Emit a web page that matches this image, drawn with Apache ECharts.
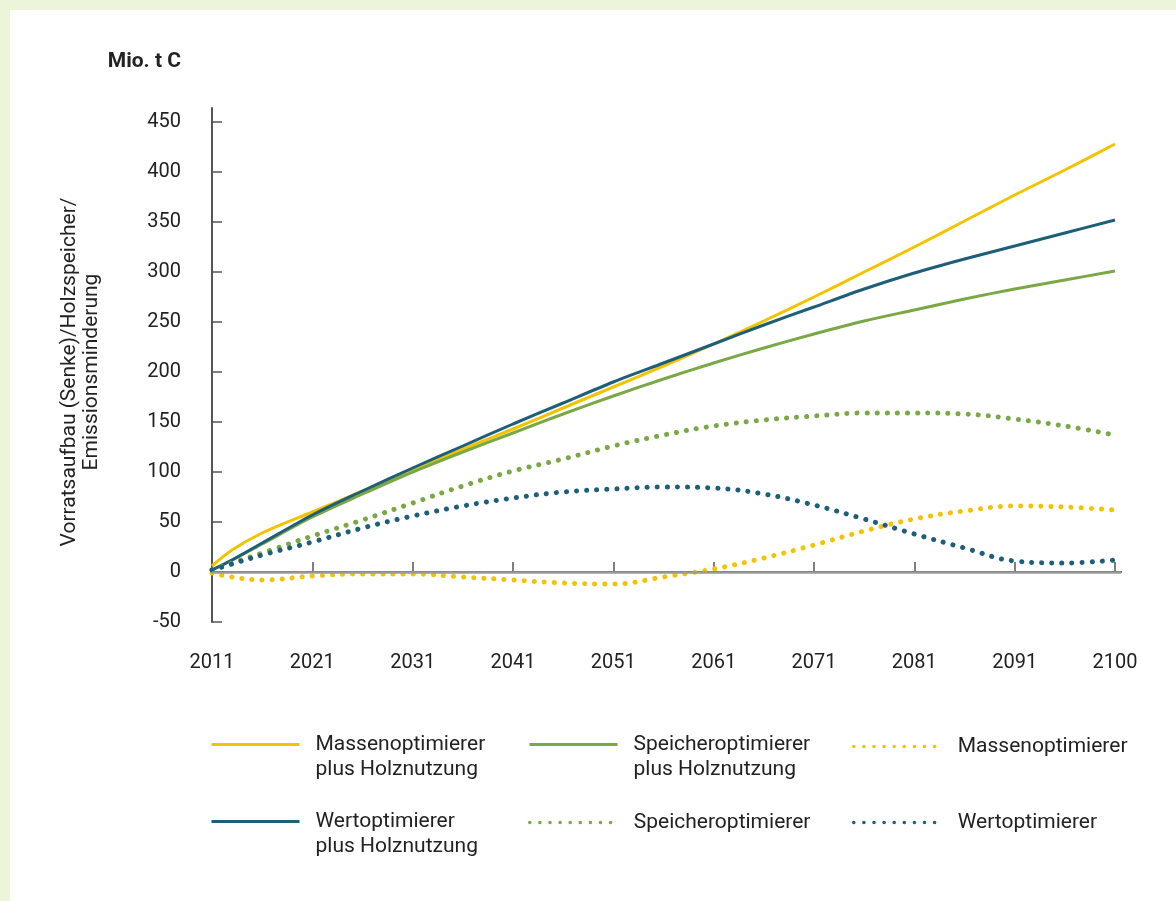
<!DOCTYPE html>
<html>
<head>
<meta charset="utf-8">
<title>Vorratsaufbau / Holzspeicher / Emissionsminderung</title>
<script src="https://cdn.jsdelivr.net/npm/echarts@6/dist/echarts.min.js"></script>
<style>
  html, body { margin: 0; padding: 0; background: #ecf4da; }
  .panel { position: absolute; left: 10px; top: 10px; right: 0; bottom: 0; background: #fff; }
  #main { position: absolute; left: 0; top: 0; width: 1176px; height: 901px; }
</style>
</head>
<body>
<div class="panel"></div>
<div id="main"></div>
<script>
// Jahre der Stuetzpunkte (2101 = Ende von 2100)
const years = [2011, 2013, 2016, 2021, 2026, 2031, 2036, 2041, 2046, 2051, 2056, 2061, 2066, 2071, 2076, 2081, 2086, 2091, 2096, 2101]

// Mio. t C
const masseHolz = [6, 22, 39, 60, 81, 103, 123, 143, 164, 185, 206, 228, 251, 275, 300, 325, 351, 377, 402, 428]
const speicherHolz = [2, 12, 28, 55, 78, 100, 120, 139, 158, 176, 193, 209, 224, 238, 251, 262, 273, 283, 292, 301]
const wertHolz = [2, 12, 29, 57, 81, 104, 126, 148, 169, 190, 209, 228, 247, 265, 283, 299, 313, 326, 339, 352]
const masse = [-1, -5, -8, -4, -2, -2, -5, -8, -11, -12, -5, 3, 14, 27, 41, 53, 61, 66, 65, 62]
const speicher = [2, 9, 19, 36, 52, 69, 86, 101, 113, 126, 137, 146, 152, 156, 159, 159, 158, 153, 146, 137]
const wert = [2, 8, 17, 30, 44, 56, 66, 74, 80, 83, 85, 84, 78, 67, 53, 38, 24, 11, 9, 12]

// Achsen
const xTicks = [2011, 2021, 2031, 2041, 2051, 2061, 2071, 2081, 2091, 2101]
const xTickLabels = ['2011', '2021', '2031', '2041', '2051', '2061', '2071', '2081', '2091', '2100']
const yTicks = [-50, 0, 50, 100, 150, 200, 250, 300, 350, 400, 450]

const GELB = '#f3c300'
const GRUEN = '#79a845'
const BLAU = '#1d5f79'
const FONT = 'Roboto, "Open Sans", sans-serif'
const DOTS = [0.1, 10]

function pairs(vals) {
  return years.map((y, i) => [y, vals[i]])
}

function solid(name, color, vals) {
  return {
    name: name,
    type: 'line',
    data: pairs(vals),
    symbol: 'none',
    smooth: 0.3,
    color: color,
    lineStyle: { color: color, width: 3 }
  }
}

function dotted(name, color, vals) {
  return {
    name: name,
    type: 'line',
    data: pairs(vals),
    symbol: 'none',
    smooth: 0.4,
    color: color,
    lineStyle: { color: color, width: 5, type: DOTS, cap: 'round' }
  }
}

// eine Legende je Eintrag, damit das Raster wie im Original sitzt
// (leere erste Zeile: so steht die erste Textzeile neben der Linie)
function legendItem(name, left, top, isDotted) {
  return {
    data: [name],
    left: left,
    top: top,
    orient: 'vertical',
    itemWidth: 88,
    itemHeight: 14,
    selectedMode: false,
    itemStyle: { opacity: 0 },
    lineStyle: isDotted ? { width: 3.5, type: DOTS, cap: 'round' } : { width: 3 },
    formatter: n => n.indexOf(' plus ') > -1 ? '\n' + n.replace(' plus ', '\nplus ') : n,
    textStyle: {
      fontFamily: FONT,
      fontSize: 21,
      color: '#222',
      lineHeight: 25,
      padding: [0, 0, 0, 11]
    }
  }
}

const chart = echarts.init(document.getElementById('main'))

const series = [
  solid('Massenoptimierer plus Holznutzung', GELB, masseHolz),
  solid('Speicheroptimierer plus Holznutzung', GRUEN, speicherHolz),
  solid('Wertoptimierer plus Holznutzung', BLAU, wertHolz),
  dotted('Massenoptimierer', GELB, masse),
  dotted('Speicheroptimierer', GRUEN, speicher),
  dotted('Wertoptimierer', BLAU, wert)
]

// Nulllinie
series[0].markLine = {
  silent: true,
  symbol: 'none',
  label: { show: false },
  lineStyle: { color: '#9a9a9a', width: 2.5, type: 'solid' },
  data: [{ yAxis: 0 }]
}

chart.setOption({
  backgroundColor: 'transparent',
  animation: false,
  grid: { left: 212, right: 55, top: 108, bottom: 279 },
  xAxis: {
    type: 'value',
    min: 2011,
    max: 2101.6,
    splitLine: { show: false },
    axisLine: { show: true, lineStyle: { color: '#555', width: 2 } },
    axisTick: { show: true, inside: true, length: 10, customValues: xTicks, lineStyle: { color: '#555', width: 1.5 } },
    axisLabel: {
      customValues: xTicks,
      formatter: v => xTickLabels[xTicks.indexOf(v)],
      margin: 31,
      fontFamily: FONT,
      fontSize: 20,
      color: '#222'
    }
  },
  yAxis: {
    type: 'value',
    min: -50,
    max: 464,
    splitLine: { show: false },
    axisLine: { show: true, lineStyle: { color: '#555', width: 2 } },
    axisTick: { show: true, inside: true, length: 10, customValues: yTicks, lineStyle: { color: '#555', width: 1.5 } },
    axisLabel: {
      customValues: yTicks,
      margin: 31,
      fontFamily: FONT,
      fontSize: 20,
      color: '#222'
    }
  },
  legend: [
    legendItem('Massenoptimierer plus Holznutzung', 205, 702),
    legendItem('Speicheroptimierer plus Holznutzung', 523, 702),
    legendItem('Massenoptimierer', 847, 729, true),
    legendItem('Wertoptimierer plus Holznutzung', 205, 779),
    legendItem('Speicheroptimierer', 523, 805, true),
    legendItem('Wertoptimierer', 847, 805, true)
  ],
  graphic: [
    {
      type: 'text',
      x: 181,
      y: 62,
      style: {
        text: 'Mio. t C',
        align: 'right',
        verticalAlign: 'middle',
        fontFamily: FONT,
        fontSize: 21,
        fontWeight: 'bold',
        fill: '#222'
      }
    },
    {
      type: 'text',
      x: 81,
      y: 372,
      rotation: Math.PI / 2,
      style: {
        text: 'Vorratsaufbau (Senke)/Holzspeicher/\nEmissionsminderung',
        align: 'center',
        verticalAlign: 'middle',
        lineHeight: 22,
        fontFamily: FONT,
        fontSize: 21,
        fill: '#222'
      }
    }
  ],
  series: series
})
</script>
</body>
</html>
